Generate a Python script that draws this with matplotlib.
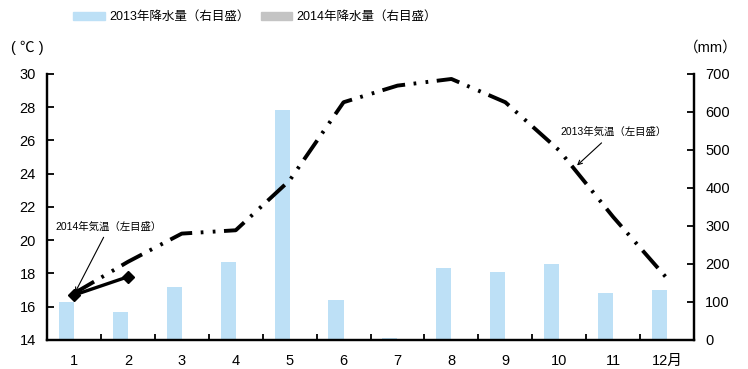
import matplotlib.pyplot as plt
from matplotlib.patches import Patch
import numpy as np

plt.rcParams['font.family'] = ['Liberation Sans', 'Noto Sans CJK JP', 'DejaVu Sans']
plt.rcParams['font.size'] = 10

months = np.arange(1, 13)
month_labels = ['1', '2', '3', '4', '5', '6', '7', '8', '9', '10', '11', '12月']

# 気温 (℃)
temp_2013 = [16.8, 18.7, 20.4, 20.6, 23.6, 28.3, 29.3, 29.7, 28.3, 25.4, 21.4, 17.7]
temp_2014 = [16.7, 17.8]
# 降水量 (mm)
rain_2013 = [100, 74, 140, 205, 605, 105, 5, 190, 179, 200, 124, 131]
rain_2014 = []

c13 = '#bde0f6'
c14 = '#c4c4c4'

fig = plt.figure(figsize=(7.48, 3.69), dpi=100)
ax = fig.add_axes([0.0628, 0.0786, 0.8651, 0.7209])
ax2 = ax.twinx()

# 降水量は右目盛
bw = 0.28
ax2.bar(months - bw / 2, rain_2013, width=bw, color=c13)
ax2.bar(months[:len(rain_2014)] + bw / 2, rain_2014, width=bw, color=c14)
ax2.set_ylim(0, 700)
ax2.set_yticks(range(0, 701, 100))

# 気温は左目盛、棒の前に描く
ax.set_zorder(ax2.get_zorder() + 1)
ax.patch.set_visible(False)
ax.plot(months, temp_2013, color='black', lw=2.8,
        linestyle=(0, (6.0, 2.2, 0.7, 2.4, 0.7, 2.2)), dash_capstyle='butt')
ax.plot(months[:len(temp_2014)], temp_2014, color='black', lw=2.4,
        marker='D', markersize=6.5)
ax.set_ylim(14, 30)
ax.set_yticks(range(14, 31, 2))
ax.set_xlim(0.5, 12.5)
ax.set_xticks(months)
ax.set_xticklabels(month_labels, fontsize=10.5)
ax.set_xticks(np.arange(1.5, 12, 1), minor=True)
ax.tick_params(axis='x', which='major', length=0, pad=10)
ax.tick_params(axis='x', which='minor', direction='in', length=4, width=1.3)
ax.tick_params(axis='y', direction='in', length=5, width=1.3, labelsize=10.5, pad=8)
ax2.tick_params(axis='y', direction='in', length=5, width=1.3, labelsize=10.5, pad=8)

for a in (ax, ax2):
    a.spines['top'].set_visible(False)
    for s in ('left', 'right', 'bottom'):
        a.spines[s].set_linewidth(1.6)

ax.text(-0.056, 1.10, '( ℃ )', transform=ax.transAxes, fontsize=10.5, ha='left', va='center')
ax.text(1.068, 1.10, '（mm）', transform=ax.transAxes, fontsize=10.5, ha='right', va='center')

ax.annotate('2014年気温（左目盛）', xy=(1.02, 16.85), xytext=(1.65, 20.8),
            fontsize=7.5, ha='center', va='center',
            arrowprops=dict(arrowstyle='->', color='black', lw=0.8, shrinkA=2, shrinkB=0))
ax.annotate('2013年気温（左目盛）', xy=(10.33, 24.5), xytext=(11.0, 26.5),
            fontsize=7.5, ha='center', va='center',
            arrowprops=dict(arrowstyle='->', color='black', lw=0.8, shrinkA=3, shrinkB=0))

handles = [Patch(color=c13, label='2013年降水量（右目盛）'),
           Patch(color=c14, label='2014年降水量（右目盛）')]
fig.legend(handles=handles, loc='upper left', bbox_to_anchor=(0.083, 1.0), ncol=2,
           frameon=False, fontsize=9, handlelength=2.5, handleheight=0.7,
           columnspacing=0.9, handletextpad=0.35)

plt.savefig('out.png', dpi=100)
